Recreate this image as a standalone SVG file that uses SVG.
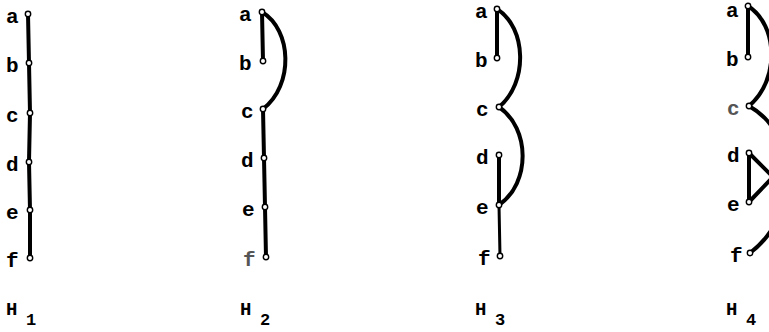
<svg xmlns="http://www.w3.org/2000/svg" width="769" height="332" viewBox="0 0 769 332">
<style>
.lbl{font-family:"Liberation Mono","DejaVu Sans Mono",monospace;font-weight:bold;font-size:21px;fill:#000}
.faint{fill:#555}
.cap{font-family:"Liberation Mono","DejaVu Sans Mono",monospace;font-weight:bold;font-size:19px;fill:#000}
.sub{font-family:"Liberation Mono","DejaVu Sans Mono",monospace;font-weight:bold;font-size:17px;fill:#000}
.e{fill:none;stroke:#000;stroke-width:4;stroke-linecap:round}
.thin{stroke-width:3}
.n{fill:#fff;stroke:#000;stroke-width:1.4}
</style>
<rect width="769" height="332" fill="#fff"/>
<g id="connectors">
  <!-- H1 -->
  <path class="e" d="M28,14 L29,63 L30,113 L29,162 L30,210 L30,258"/>
  <!-- H2 -->
  <path class="e" d="M262,12 L263,61"/>
  <path class="e" d="M262,12 C292,30 294,85 263,109"/>
  <path class="e" d="M263,109 L264,158 L265,207 L266,257"/>
  <!-- H3 -->
  <path class="e" d="M497,9 L497,58"/>
  <path class="e" d="M497,9 C527,28 528,83 499,107"/>
  <path class="e" d="M499,107 C530,128 531,183 499,205"/>
  <path class="e" d="M499,155 L499,205"/>
  <path class="e thin" d="M499,205 L500,256"/>
  <!-- H4 -->
  <path class="e" d="M748,6 L748,57"/>
  <path class="e" d="M748,6 C778,25 780,80 749,106"/>
  <path class="e" d="M749,106 C800,135 800,215 750,253"/>
  <path class="e" d="M749,153 L749,202"/>
  <path class="e" d="M749,153 L773,177"/>
  <path class="e" d="M749,202 L773,177"/>
</g>
<g id="H1">
  <g id="h1-a"><text class="lbl" x="6" y="23">a</text><circle class="n" cx="28" cy="14" r="2.7"/></g>
  <g id="h1-b"><text class="lbl" x="6" y="72">b</text><circle class="n" cx="29" cy="63" r="2.7"/></g>
  <g id="h1-c"><text class="lbl" x="6" y="122">c</text><circle class="n" cx="30" cy="113" r="2.7"/></g>
  <g id="h1-d"><text class="lbl" x="6" y="171">d</text><circle class="n" cx="29" cy="162" r="2.7"/></g>
  <g id="h1-e"><text class="lbl" x="6" y="219">e</text><circle class="n" cx="30" cy="210" r="2.7"/></g>
  <g id="h1-f"><text class="lbl" x="6" y="267">f</text><circle class="n" cx="30" cy="258" r="2.7"/></g>
  <g id="h1-title"><text class="cap" x="6" y="315">H</text><text class="sub" x="26" y="325">1</text></g>
</g>
<g id="H2">
  <g id="h2-a"><text class="lbl" x="239" y="21">a</text><circle class="n" cx="262" cy="12" r="2.7"/></g>
  <g id="h2-b"><text class="lbl" x="239" y="70">b</text><circle class="n" cx="263" cy="61" r="2.7"/></g>
  <g id="h2-c"><text class="lbl" x="241" y="118">c</text><circle class="n" cx="263" cy="109" r="2.7"/></g>
  <g id="h2-d"><text class="lbl" x="241" y="167">d</text><circle class="n" cx="264" cy="158" r="2.7"/></g>
  <g id="h2-e"><text class="lbl" x="242" y="216">e</text><circle class="n" cx="265" cy="207" r="2.7"/></g>
  <g id="h2-f"><text class="lbl faint" x="243" y="266">f</text><circle class="n" cx="266" cy="257" r="2.7"/></g>
  <g id="h2-title"><text class="cap" x="240" y="315">H</text><text class="sub" x="260" y="325">2</text></g>
</g>
<g id="H3">
  <g id="h3-a"><text class="lbl" x="475" y="18">a</text><circle class="n" cx="497" cy="9" r="2.7"/></g>
  <g id="h3-b"><text class="lbl" x="475" y="67">b</text><circle class="n" cx="497" cy="58" r="2.7"/></g>
  <g id="h3-c"><text class="lbl" x="476" y="116">c</text><circle class="n" cx="499" cy="107" r="2.7"/></g>
  <g id="h3-d"><text class="lbl" x="476" y="164">d</text><circle class="n" cx="499" cy="155" r="2.7"/></g>
  <g id="h3-e"><text class="lbl" x="476" y="214">e</text><circle class="n" cx="499" cy="205" r="2.7"/></g>
  <g id="h3-f"><text class="lbl" x="478" y="265">f</text><circle class="n" cx="500" cy="256" r="2.7"/></g>
  <g id="h3-title"><text class="cap" x="475" y="315">H</text><text class="sub" x="495" y="325">3</text></g>
</g>
<g id="H4">
  <g id="h4-a"><text class="lbl" x="726" y="17">a</text><circle class="n" cx="748" cy="6" r="2.7"/></g>
  <g id="h4-b"><text class="lbl" x="726" y="66">b</text><circle class="n" cx="748" cy="57" r="2.7"/></g>
  <g id="h4-c"><text class="lbl faint" x="727" y="115">c</text><circle class="n" cx="749" cy="106" r="2.7"/></g>
  <g id="h4-d"><text class="lbl" x="727" y="162">d</text><circle class="n" cx="749" cy="153" r="2.7"/></g>
  <g id="h4-e"><text class="lbl" x="727" y="211">e</text><circle class="n" cx="749" cy="202" r="2.7"/></g>
  <g id="h4-f"><text class="lbl" x="730" y="262">f</text><circle class="n" cx="750" cy="253" r="2.7"/></g>
  <g id="h4-title"><text class="cap" x="726" y="315">H</text><text class="sub" x="746" y="325">4</text></g>
</g>
</svg>
